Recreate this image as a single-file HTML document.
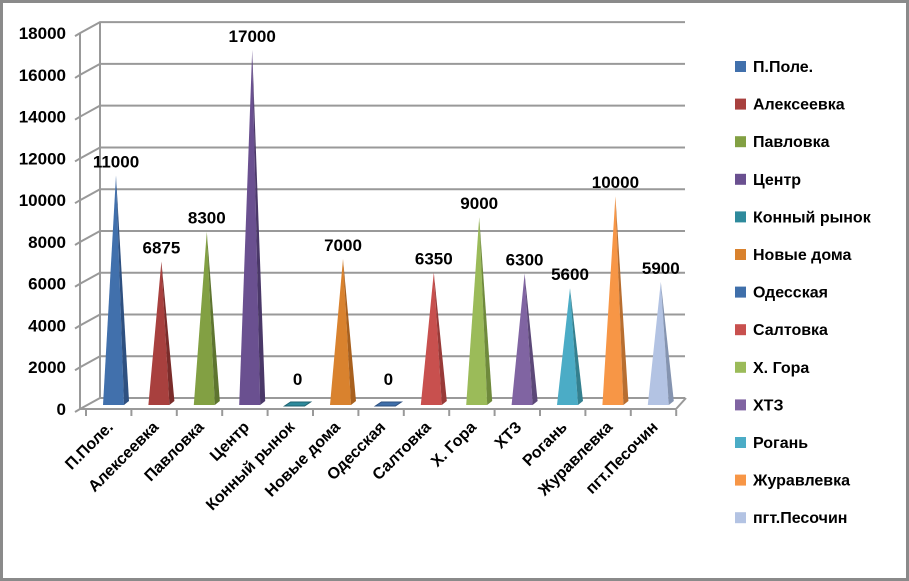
<!DOCTYPE html>
<html><head><meta charset="utf-8"><style>
html,body{margin:0;padding:0;background:#fff}
svg{display:block}
text{font-family:"Liberation Sans","DejaVu Sans",sans-serif;font-weight:bold;fill:#000}
</style></head><body>
<svg id="chart" width="909" height="581" viewBox="0 0 909 581">
<rect x="1.5" y="1.5" width="906" height="578" fill="#fff" stroke="#8a8a8a" stroke-width="3"/>
<g id="grid"></g><g id="bars"></g><g id="labels"></g><g id="legend"></g>
</svg>
<script>
const categories=["П.Поле.","Алексеевка","Павловка","Центр","Конный рынок","Новые дома","Одесская","Салтовка","Х. Гора","ХТЗ","Рогань","Журавлевка","пгт.Песочин"];
const values=[11000,6875,8300,17000,0,7000,0,6350,9000,6300,5600,10000,5900];
const colors=["#4170AC","#A8403E","#82A043","#6A5090","#2E8A9C","#D9822E","#3F6FAA","#C8504E","#9BBB59","#8064A2","#4BACC6","#F79646","#B3C3E3"];
const darks=["#2E5080","#7A2C2A","#5E7530","#4A3868","#1F6270","#A8601E","#2E5080","#983A38","#6F8A3C","#5C4878","#34808F","#B86E30","#8594B0"];
const yTicks=[0,2000,4000,6000,8000,10000,12000,14000,16000,18000];
const NS="http://www.w3.org/2000/svg";
function mk(t,a,p){const e=document.createElementNS(NS,t);for(const k in a)e.setAttribute(k,a[k]);p.appendChild(e);return e;}
const y0=409,k=0.02088,dx=20,dy=-11,xL=80;
function Y(v){return y0-v*k;}
function X(i){return 86+i*45.4;}
const grid=document.getElementById('grid');
mk('line',{x1:xL+dx,y1:Y(0)+dy,x2:xL+dx,y2:Y(18000)+dy,stroke:'#999','stroke-width':2},grid);
mk('line',{x1:xL,y1:Y(0),x2:xL,y2:Y(18000),stroke:'#999','stroke-width':2},grid);
yTicks.forEach(v=>{
  const g=mk('g',{},grid);
  
  
  mk('polyline',{points:`${xL-5},${Y(v)+3} ${xL},${Y(v)} ${xL+dx},${Y(v)+dy} ${685},${Y(v)+dy}`,fill:'none',stroke:'#999','stroke-width':2},g);
  const t=mk('text',{x:66,y:Y(v)+6,'text-anchor':'end','font-size':17},g);
  t.textContent=v;
  
  
});
mk('polyline',{points:`${xL},${Y(0)} ${676},${Y(0)} ${686},${Y(0)+dy}`,fill:'none',stroke:'#999','stroke-width':2},grid);
for(let i=0;i<=13;i++){mk('line',{x1:X(i),y1:Y(0)+1,x2:X(i),y2:Y(0)+7,stroke:'#999','stroke-width':2},grid);}
const bars=document.getElementById('bars'),labels=document.getElementById('labels');
values.forEach((v,i)=>{
  const cx=X(i)+30,by=Y(0)-4,top=Y(v)-4,hw=13;
  const g=mk('g',{},bars);
  
  
  if(v>0){
    mk('polygon',{points:`${cx-hw},${by} ${cx+hw-5},${by} ${cx},${top}`,fill:colors[i]},g);
    mk('polygon',{points:`${cx+hw-5},${by} ${cx+hw},${by-4} ${cx},${top}`,fill:darks[i]},g);
  } else {
    mk('polygon',{points:`${cx-hw},${by+1} ${cx+hw-6},${by+1} ${cx+hw},${by-3} ${cx-hw+6},${by-3}`,fill:colors[i],stroke:darks[i]},g);
  }
  const t=mk('text',{x:cx,y:(v>0?top:by-12)-8,'text-anchor':'middle','font-size':17},labels);
  t.textContent=v;
  
  
  const lx=X(i)+28,ly=428;
  const c=mk('text',{x:lx,y:ly,'text-anchor':'end','font-size':16,transform:`rotate(-45 ${lx} ${ly})`},labels);
  c.textContent=categories[i];
  
  
});
const legend=document.getElementById('legend');
categories.forEach((c,i)=>{
  const y=66+i*37.6;
  const g=mk('g',{},legend);
  
  
  mk('rect',{x:735,y:y-5,width:11,height:11,fill:colors[i]},g);
  const t=mk('text',{x:753,y:y+6,'font-size':16},g);
  t.textContent=c;
});
</script>
</body></html>
